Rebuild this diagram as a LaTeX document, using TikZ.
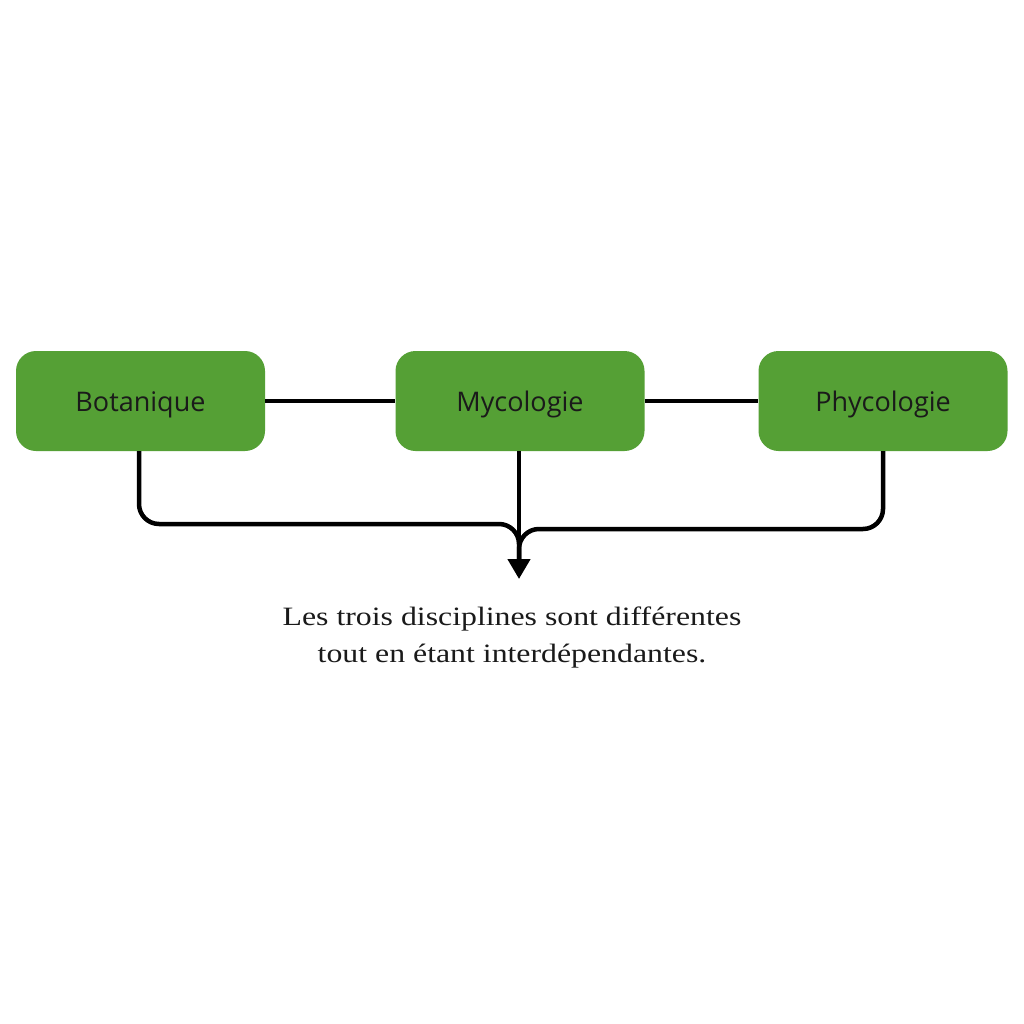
\documentclass[tikz,border=0pt]{standalone}
\usepackage{fontspec}
\setmainfont{Liberation Serif}
\newfontfamily\capfont[FakeStretch=1.2]{Liberation Serif}
\newfontfamily\boxfont{Open Sans}
\usetikzlibrary{arrows.meta}
\definecolor{boxgreen}{HTML}{55A035}
\definecolor{txtdark}{HTML}{1A1A1A}
\tikzset{
  discbox/.style={fill=boxgreen, rounded corners=20pt, minimum width=249pt, minimum height=100pt, inner sep=0pt, text height=21pt, text depth=0pt, font=\boxfont\fontsize{27}{32}\selectfont, text=txtdark},
  conn/.style={line width=4.5pt, draw=black},
}
\begin{document}
\begin{tikzpicture}[x=1pt,y=-1pt]
\useasboundingbox[fill=white] (0,0) rectangle (1024,1024);
\node[discbox] (bot) at (140.5,401) {Botanique};
\node[discbox] (myc) at (520,401) {Mycologie};
\node[discbox] (phy) at (883,401) {Phycologie};
\draw[conn] (bot.east) -- (myc.west);
\draw[conn] (myc.east) -- (phy.west);
\coordinate (lcorner) at (139,524);
\coordinate (rcorner) at (883,529);
\coordinate (merge) at (519,562);
\coordinate (tip) at (519,579);
\draw[conn, rounded corners=20pt] (139,451) -- (lcorner) -- (519,524) -- (merge);
\draw[conn, rounded corners=20pt] (883,451) -- (rcorner) -- (519,529) -- (merge);
\draw[conn, -{Triangle[length=20pt,width=22pt]}] (519,451) -- (tip);
\node[align=center, font=\capfont\fontsize{26.5}{37}\selectfont, text=txtdark, anchor=north] (cap) at (512,603) {Les trois disciplines sont différentes\\tout en étant interdépendantes.};
\end{tikzpicture}
\end{document}
